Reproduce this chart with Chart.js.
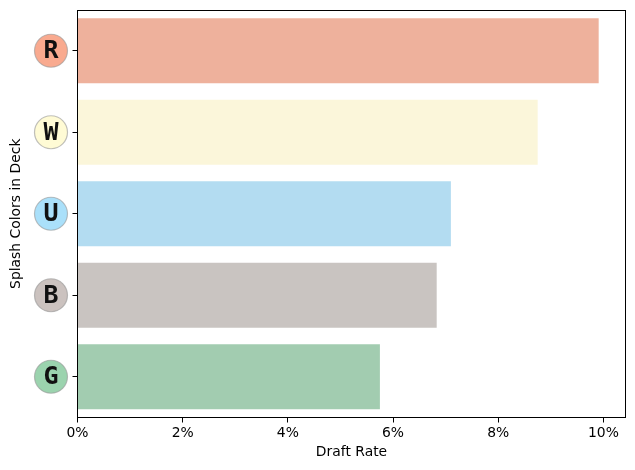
<!DOCTYPE html>
<html><head><meta charset="utf-8">
<style>html,body{margin:0;padding:0;background:#fff}canvas{display:block}</style>
<script src="https://cdn.jsdelivr.net/npm/chart.js@4"></script>
</head><body><canvas id="c" width="635" height="470"></canvas>
<script>
const categories = ["R","W","U","B","G"];
const draftRate = [9.91,8.75,7.10,6.83,5.75];
const barColors = ["#EEB19C","#FBF6DA","#B3DCF1","#C9C4C1","#A2CCB0"];
const iconColors = ["#F9AA8F","#FFFBD5","#AAE0FA","#CBC2BF","#9BD3AE"];
const FONT = "'DejaVu Sans'";
const TXT = "#000";
const iconPlugin = {
  id:"icons",
  beforeDraw(chart){
    const {ctx,scales:{y}} = chart;
    ctx.save();
    categories.forEach((c,i)=>{
      ctx.beginPath();
      ctx.arc(51,y.getPixelForValue(i),16.5,0,Math.PI*2);
      ctx.fillStyle=iconColors[i];
      ctx.fill();
      ctx.lineWidth=1.2;
      ctx.strokeStyle="rgba(150,150,150,0.6)";
      ctx.stroke();
    });
    ctx.restore();
  },
  afterDraw(chart){
    const {ctx,chartArea:a} = chart;
    ctx.save();
    ctx.strokeStyle="#000";ctx.lineWidth=1;
    ctx.strokeRect(a.left,a.top+0.5,a.right-a.left,a.bottom-a.top-0.5);
    ctx.restore();
  }
};
new Chart(document.getElementById("c"),{
  type:"bar",
  data:{labels:categories,datasets:[{data:draftRate,backgroundColor:barColors,borderWidth:0,categoryPercentage:1,barPercentage:0.8}]},
  plugins:[iconPlugin],
  options:{
    indexAxis:"y",responsive:false,animation:false,
    layout:{padding:{top:10,right:9.5,left:0,bottom:0}},
    plugins:{legend:{display:false},tooltip:{enabled:false}},
    scales:{
      x:{min:0,max:10.42,
        afterFit(s){s.height=52.5;s.paddingLeft=0;s.paddingRight=0;},
        grid:{drawOnChartArea:false,drawTicks:true,tickLength:5,color:"#000"},
        border:{color:"#000"},
        ticks:{stepSize:2,includeBounds:false,autoSkip:false,maxRotation:0,padding:3,color:TXT,font:{family:FONT,size:13.9},callback:v=>v+"%"},
        title:{display:true,text:"Draft Rate",color:TXT,font:{family:FONT,size:13.9},padding:{top:3,bottom:9}}
      },
      y:{
        afterFit(s){s.width=77.5;s.paddingTop=0;s.paddingBottom=0;},
        grid:{offset:false,drawOnChartArea:false,drawTicks:true,tickLength:5,color:"#000"},
        border:{color:"#000"},
        ticks:{crossAlign:"center",padding:14,labelOffset:1,color:"#111",font:{family:"'DejaVu Sans Mono'",size:25,weight:"bold"}},
        title:{display:true,text:"Splash Colors in Deck",color:TXT,font:{family:FONT,size:13.9},padding:{top:8,bottom:0}}
      }
    }
  }
});
</script></body></html>
